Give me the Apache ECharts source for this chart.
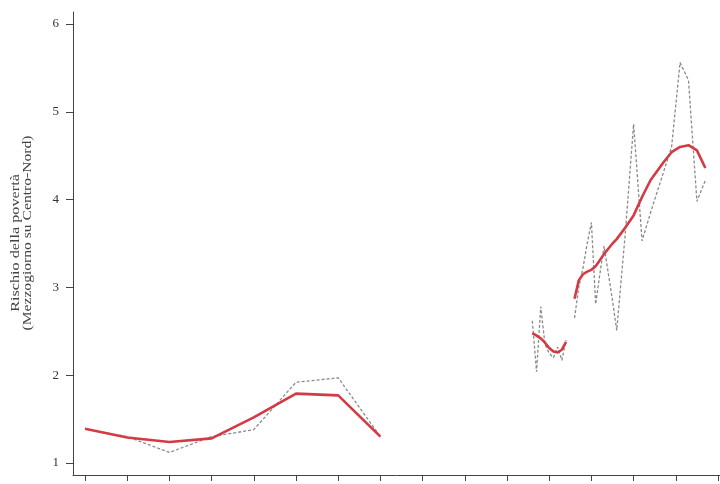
<!DOCTYPE html>
<html>
<head>
<meta charset="utf-8">
<script src="https://cdn.jsdelivr.net/npm/echarts@6/dist/echarts.min.js"></script>
<style>
  html, body { margin: 0; padding: 0; background: #fff; }
  #chart { width: 720px; height: 484px; }
</style>
</head>
<body>
<div id="chart"></div>
<script>
// Census years 1861-1931
const years1 = [1861, 1871, 1881, 1891, 1901, 1911, 1921, 1931];
const smooth1 = [1.39, 1.29, 1.24, 1.28, 1.52, 1.79, 1.77, 1.30];
const raw1 = [1.39, 1.30, 1.12, 1.30, 1.38, 1.92, 1.97, 1.30];

// Annual series 1967-1975
const years2 = [1967, 1968, 1969, 1970, 1971, 1972, 1973, 1974, 1975];
const smooth2 = [2.48, 2.45, 2.42, 2.37, 2.31, 2.27, 2.26, 2.29, 2.38];
const raw2 = [2.62, 2.04, 2.78, 2.35, 2.25, 2.20, 2.32, 2.17, 2.40];

// Survey years 1977-2008
const years3 = [1977, 1978, 1979, 1980, 1981, 1982, 1983, 1984, 1986, 1987,
                1989, 1991, 1993, 1995, 1998, 2000, 2002, 2004, 2006, 2008];
const smooth3 = [2.87, 3.08, 3.15, 3.18, 3.20, 3.24, 3.31, 3.38, 3.50, 3.55,
                 3.68, 3.82, 4.03, 4.22, 4.42, 4.54, 4.60, 4.62, 4.56, 4.36];
const raw3 = [2.65, 3.00, 3.22, 3.50, 3.74, 2.81, 3.15, 3.47, 2.85, 2.51,
              3.60, 4.86, 3.53, 3.85, 4.30, 4.60, 5.56, 5.36, 3.98, 4.22];

// Axis ticks
const yTicks = [1, 2, 3, 4, 5, 6];
const xTicks = [1861, 1871, 1881, 1891, 1901, 1911, 1921, 1931, 1941, 1951,
                1961, 1971, 1981, 1991, 2001, 2011];

const yTitle1 = 'Rischio della povertà';
const yTitle2 = '(Mezzogiorno su Centro-Nord)';

const pair = (xs, ys) => xs.map((x, i) => [x, ys[i]]);

const rawStyle = {
  type: 'line', symbol: 'none', silent: true, z: 2,
  lineStyle: { color: '#8a8a8a', width: 1.3, type: [3, 2] }
};
const smoothStyle = {
  type: 'line', symbol: 'none', silent: true, z: 3,
  lineStyle: { color: '#d43a44', width: 2.6 }
};

const chart = echarts.init(document.getElementById('chart'), null, { renderer: 'canvas' });
chart.setOption({
  animation: false,
  backgroundColor: '#ffffff',
  grid: { left: 73, right: 0, top: 12, bottom: 9, containLabel: false },
  xAxis: {
    type: 'value',
    min: 1858.16,
    max: 2011.47,
    splitLine: { show: false },
    axisLine: { show: true, lineStyle: { color: '#444', width: 1 } },
    axisTick: { show: true, customValues: xTicks, length: 6, lineStyle: { color: '#444' } },
    axisLabel: { show: false }
  },
  yAxis: {
    type: 'value',
    min: 0.8633,
    max: 6.1367,
    splitLine: { show: false },
    axisLine: { show: true, lineStyle: { color: '#444', width: 1 } },
    axisTick: { show: true, customValues: yTicks, length: 7, lineStyle: { color: '#444' } },
    axisLabel: {
      customValues: yTicks,
      margin: 14,
      color: '#333',
      fontFamily: '"Liberation Serif", "DejaVu Serif", serif',
      fontSize: 13
    }
  },
  graphic: [
    {
      type: 'text', x: 16, y: 243, rotation: Math.PI / 2, scaleX: 1.35,
      style: {
        text: yTitle1, fill: '#444',
        font: '12px "Liberation Serif", serif',
        align: 'center', verticalAlign: 'middle',
        textAlign: 'center', textVerticalAlign: 'middle'
      }
    },
    {
      type: 'text', x: 28, y: 233, rotation: Math.PI / 2, scaleX: 1.3,
      style: {
        text: yTitle2, fill: '#444',
        font: '12px "Liberation Serif", serif',
        align: 'center', verticalAlign: 'middle',
        textAlign: 'center', textVerticalAlign: 'middle'
      }
    }
  ],
  series: [
    Object.assign({ data: pair(years1, raw1) }, rawStyle),
    Object.assign({ data: pair(years2, raw2) }, rawStyle),
    Object.assign({ data: pair(years3, raw3) }, rawStyle),
    Object.assign({ data: pair(years1, smooth1) }, smoothStyle),
    Object.assign({ data: pair(years2, smooth2) }, smoothStyle),
    Object.assign({ data: pair(years3, smooth3) }, smoothStyle)
  ]
});
</script>
</body>
</html>
